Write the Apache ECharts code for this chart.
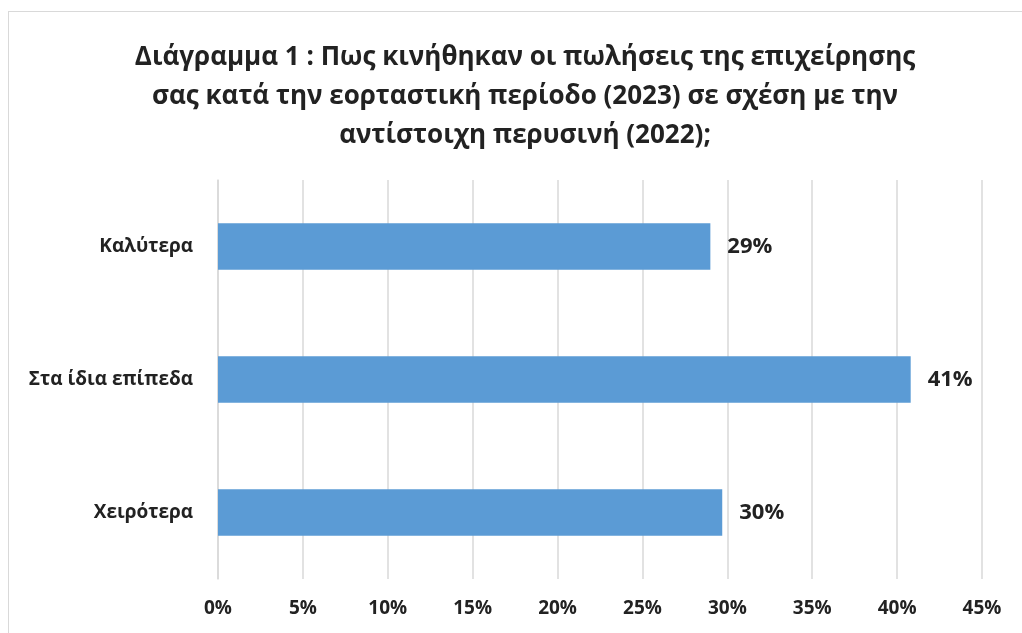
<!DOCTYPE html>
<html>
<head>
<meta charset="utf-8">
<script src="https://cdn.jsdelivr.net/npm/echarts@6/dist/echarts.min.js"></script>
<style>
    html, body { margin: 0; padding: 0; background: #fff; }
    #frame {
        position: absolute; left: 8px; top: 11px;
        width: 1040px; height: 650px;
        border: 1px solid #d9d9d9;
    }
    #chart { position: absolute; left: 0; top: 0; width: 1022px; height: 633px; }
</style>
</head>
<body>
<div id="frame"></div>
<div id="chart"></div>
<script>
// κατηγορίες (από πάνω προς τα κάτω)
const categories = ['Καλύτερα', 'Στα ίδια επίπεδα', 'Χειρότερα'];
// ποσοστά
const values = [29.0, 40.8, 29.7];
const titleText = 'Διάγραμμα 1 : Πως κινήθηκαν οι πωλήσεις της επιχείρησης\nσας κατά την εορταστική περίοδο (2023) σε σχέση με την\nαντίστοιχη περυσινή (2022);';

const myChart = echarts.init(document.getElementById('chart'));

const option = {
    animation: false,
    title: {
        text: titleText,
        left: 520,
        top: 33,
        textAlign: 'center',
        textStyle: {
            fontFamily: 'Open Sans',
            fontWeight: 'bold',
            fontSize: 26,
            lineHeight: 39,
            color: '#222'
        }
    },
    grid: {
        left: 218,
        right: 40,
        top: 180,
        bottom: 54
    },
    xAxis: {
        type: 'value',
        min: 0,
        max: 45,
        interval: 5,
        axisLine: { show: false },
        axisTick: { show: false },
        splitLine: { lineStyle: { color: '#d9d9d9', width: 1.5 } },
        axisLabel: {
            margin: 20,
            formatter: '{value}%',
            fontFamily: 'Open Sans',
            fontWeight: 'bold',
            fontSize: 19,
            color: '#222'
        }
    },
    yAxis: {
        type: 'category',
        inverse: true,
        data: categories,
        axisLine: { show: true, lineStyle: { color: '#d9d9d9', width: 1.5 } },
        axisTick: { show: false },
        axisLabel: {
            margin: 25,
            fontFamily: 'Open Sans',
            fontWeight: 'bold',
            fontSize: 19,
            color: '#222'
        }
    },
    series: [
        {
            type: 'bar',
            data: values,
            barWidth: '35%',
            itemStyle: { color: '#5b9bd5' },
            label: {
                show: true,
                position: 'right',
                distance: 17,
                formatter: p => Math.round(p.value) + '%',
                fontFamily: 'Open Sans',
                fontWeight: 'bold',
                fontSize: 22,
                color: '#222'
            }
        }
    ]
};

myChart.setOption(option);
</script>
</body>
</html>
